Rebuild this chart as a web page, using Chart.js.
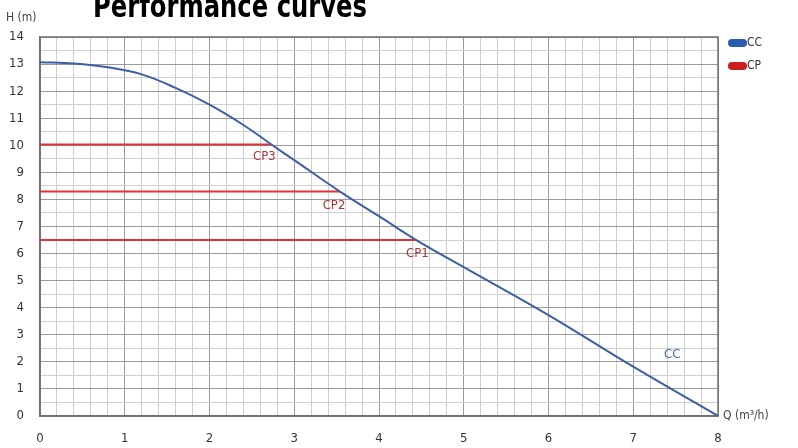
<!DOCTYPE html>
<html>
<head>
<meta charset="utf-8">
<script src="https://cdn.jsdelivr.net/npm/chart.js@4.4.1/dist/chart.umd.min.js"></script>
<style>
  html, body { margin: 0; padding: 0; background: #fff; }
  #wrap { width: 798px; height: 448px; position: relative; }
</style>
</head>
<body>
<div id="wrap"><canvas id="perf"></canvas></div>
<script>
// pump curve CC: flow Q (m3/h) vs head H (m)
const ccFlow = [0, 0.4, 0.8, 1.2, 1.6, 2.0, 2.4, 2.73, 3.0, 3.54, 4.0, 4.44, 5, 6, 7, 8];
const ccHead = [13.07, 13.02, 12.88, 12.62, 12.12, 11.5, 10.75, 10.03, 9.45, 8.29, 7.38, 6.5, 5.5, 3.73, 1.82, 0];

// constant-pressure settings, each drawn from Q=0 to where it meets CC
const cpNames = ['CP1', 'CP2', 'CP3'];
const cpHead = [6.5, 8.29, 10.03];
const cpFlowEnd = [4.44, 3.54, 2.73];

const xTicks = [0, 1, 2, 3, 4, 5, 6, 7, 8];
const yTicks = [0, 1, 2, 3, 4, 5, 6, 7, 8, 9, 10, 11, 12, 13, 14];

const BLUE = '#3e5fa4';
const RED = '#e03434';
const FONT = '"DejaVu Sans Condensed", "DejaVu Sans", sans-serif';

const isWhole = v => Math.abs(v - Math.round(v)) < 1e-6;

const datasets = [{
  label: 'CC',
  data: ccFlow.map((q, i) => ({ x: q, y: ccHead[i] })),
  borderColor: BLUE,
  borderWidth: 2,
  pointRadius: 0,
  tension: 0.4,
  fill: false
}];
cpNames.forEach((name, i) => {
  datasets.push({
    label: name,
    data: [{ x: 0, y: cpHead[i] }, { x: cpFlowEnd[i], y: cpHead[i] }],
    borderColor: RED,
    borderWidth: 2,
    pointRadius: 0,
    fill: false
  });
});

// dark frame round the plot area
const frame = {
  id: 'frame',
  beforeDatasetsDraw(chart) {
    const { ctx, chartArea: a } = chart;
    ctx.save();
    ctx.strokeStyle = '#707070';
    ctx.lineWidth = 1.5;
    ctx.strokeRect(a.left, a.top, a.right - a.left, a.bottom - a.top);
    ctx.restore();
  }
};

// title, axis names, point labels and the small legend
const extras = {
  id: 'extras',
  afterDatasetsDraw(chart) {
    const { ctx, scales: { x, y } } = chart;
    ctx.save();

    // labels at the end of each CP line
    ctx.font = '13px ' + FONT;
    ctx.fillStyle = '#a83434';
    ctx.textAlign = 'center';
    ctx.textBaseline = 'middle';
    const cpOffsets = [[1, 14], [-6, 14], [-7, 12]];
    cpNames.forEach((name, i) => {
      ctx.fillText(name, x.getPixelForValue(cpFlowEnd[i]) + cpOffsets[i][0], y.getPixelForValue(cpHead[i]) + cpOffsets[i][1]);
    });
    ctx.fillStyle = '#4a6aa6';
    ctx.fillText('CC', x.getPixelForValue(7.46), y.getPixelForValue(2.25));

    // axis names
    ctx.fillStyle = '#444';
    ctx.font = '12px ' + FONT;
    ctx.textAlign = 'left';
    ctx.fillText('H (m)', 6, 18);
    ctx.fillText('Q (m\u00b3/h)', x.right + 5, y.bottom);

    // legend
    const legend = [['CC', '#2a5cb0', 43], ['CP', '#cc1f1f', 66]];
    legend.forEach(([txt, col, cy]) => {
      ctx.fillStyle = col;
      ctx.beginPath();
      ctx.roundRect(728, cy - 4, 19, 8, 4);
      ctx.fill();
      ctx.fillStyle = '#333';
      ctx.fillText(txt, 747, cy);
    });

    // heading, squeezed to a condensed look
    ctx.fillStyle = '#000';
    ctx.font = 'bold 32px ' + FONT;
    ctx.textBaseline = 'alphabetic';
    const title = 'Performance curves';
    const w = ctx.measureText(title).width;
    ctx.translate(93, 17);
    ctx.scale(274 / w, 1);
    ctx.fillText(title, 0, 0);
    ctx.restore();
  }
};

new Chart(document.getElementById('perf'), {
  type: 'line',
  data: { datasets },
  options: {
    responsive: true,
    maintainAspectRatio: false,
    animation: false,
    layout: { padding: { top: 37, right: 80, left: 0, bottom: 0 } },
    plugins: { legend: { display: false }, tooltip: { enabled: false } },
    scales: {
      x: {
        type: 'linear',
        min: xTicks[0],
        max: xTicks[xTicks.length - 1],
        afterFit: s => { s.height = 32; },
        border: { display: true, color: '#707070', width: 1.5 },
        grid: {
          drawTicks: false,
          color: c => isWhole(c.tick.value) ? '#9a9a9a' : '#cfcfcf',
          lineWidth: 1
        },
        ticks: {
          stepSize: 0.2,
          padding: 15,
          autoSkip: false,
          maxRotation: 0,
          color: '#333',
          font: { family: FONT, size: 13 },
          callback: v => (isWhole(v) && xTicks.includes(Math.round(v))) ? String(Math.round(v)) : ''
        }
      },
      y: {
        type: 'linear',
        min: yTicks[0],
        max: yTicks[yTicks.length - 1],
        afterFit: s => { s.width = 40; },
        border: { display: true, color: '#707070', width: 1.5 },
        grid: {
          drawTicks: false,
          color: c => isWhole(c.tick.value) ? '#9a9a9a' : '#cfcfcf',
          lineWidth: 1
        },
        ticks: {
          stepSize: 0.5,
          padding: 16,
          autoSkip: false,
          color: '#333',
          font: { family: FONT, size: 13 },
          callback: v => (isWhole(v) && yTicks.includes(Math.round(v))) ? String(Math.round(v)) : ''
        }
      }
    }
  },
  plugins: [frame, extras]
});
</script>
</body>
</html>
